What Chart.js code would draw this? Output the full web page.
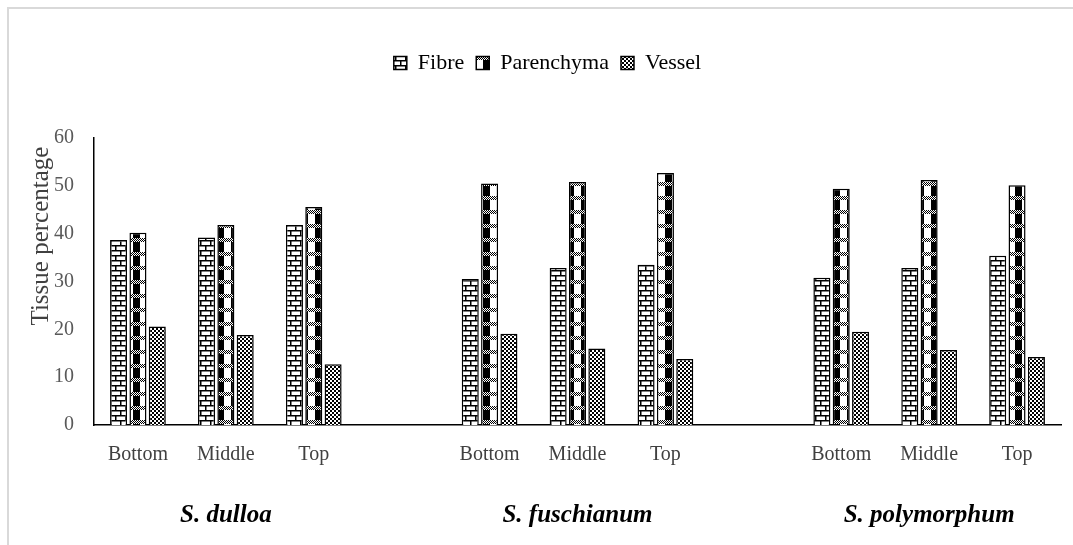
<!DOCTYPE html>
<html>
<head>
<meta charset="utf-8">
<script src="https://cdn.jsdelivr.net/npm/chart.js@4"></script>
<style>
  html, body { margin: 0; padding: 0; background: #fff; }
  #wrap { width: 1073px; height: 545px; }
</style>
</head>
<body>
<div id="wrap"><canvas id="chartBar" width="1073" height="545"></canvas></div>
<script>
// data
const categories = ["Bottom", "Middle", "Top", "", "Bottom", "Middle", "Top", "", "Bottom", "Middle", "Top"];
const groupNames = ["S. dulloa", "S. fuschianum", "S. polymorphum"];
const groupCenters = [1, 5, 9]; // category index under each species name
const fibre = [38.7, 39.2, 41.8, null, 30.5, 32.8, 33.5, null, 30.8, 32.8, 35.4];
const parenchyma = [40.2, 41.8, 45.6, null, 50.5, 50.8, 52.7, null, 49.4, 51.2, 50.1];
const vessel = [20.6, 18.8, 12.7, null, 19.1, 16.0, 13.8, null, 19.5, 15.7, 14.2];
const yTicks = [0, 10, 20, 30, 40, 50, 60];
const yTitle = "Tissue percentage";

const serif = "'Liberation Serif', 'Times New Roman', serif";

// little black & white fill patterns, like the Excel ones
function makePattern(w, h, draw) {
  const c = document.createElement("canvas");
  c.width = w;
  c.height = h;
  const ctx = c.getContext("2d");
  ctx.fillStyle = "#fff";
  ctx.fillRect(0, 0, w, h);
  ctx.fillStyle = "#000";
  draw(ctx);
  return document.createElement("canvas").getContext("2d").createPattern(c, "repeat");
}

const brick = makePattern(10, 10, (ctx) => {
  ctx.fillRect(0, 0, 10, 1.5);
  ctx.fillRect(0, 5, 10, 1.5);
  ctx.fillRect(0, 0, 1.5, 5);
  ctx.fillRect(5, 5, 1.5, 5);
});

const shingle = makePattern(14, 14, (ctx) => {
  ctx.fillRect(7, 0, 7, 14);
  // dotted band
  ctx.fillStyle = "#fff";
  ctx.fillRect(0, 0, 14, 4);
  ctx.fillStyle = "#000";
  for (let y = 0; y < 4; y++) {
    for (let x = (y % 2); x < 14; x += 2) ctx.fillRect(x, y, 1, 1);
  }
});

const checker = makePattern(4, 4, (ctx) => {
  ctx.fillRect(0, 0, 2, 2);
  ctx.fillRect(2, 2, 2, 2);
});

const background = {
  id: "background",
  beforeDraw(chart) {
    const ctx = chart.ctx;
    ctx.save();
    ctx.fillStyle = "#fff";
    ctx.fillRect(0, 0, chart.width, chart.height);
    ctx.strokeStyle = "#d9d9d9";
    ctx.lineWidth = 2;
    ctx.beginPath();
    ctx.moveTo(8, chart.height);
    ctx.lineTo(8, 8);
    ctx.lineTo(chart.width, 8);
    ctx.stroke();
    ctx.restore();
  },
};

// species names under the groups, and the y title (sits a bit above centre in the original)
const extraText = {
  id: "extraText",
  afterDraw(chart) {
    const ctx = chart.ctx;
    const x = chart.scales.x;
    const y = chart.scales.y;
    ctx.save();
    ctx.font = "italic bold 25px " + serif;
    ctx.fillStyle = "#000";
    ctx.textAlign = "center";
    ctx.textBaseline = "middle";
    groupNames.forEach((name, i) => {
      ctx.fillText(name, x.getPixelForValue(groupCenters[i]), 516);
    });
    ctx.translate(41, y.getPixelForValue(39.5));
    ctx.rotate(-Math.PI / 2);
    ctx.font = "25px " + serif;
    ctx.fillStyle = "#404040";
    ctx.fillText(yTitle, 0, 0);
    ctx.restore();
  },
};

const legendMargin = {
  id: "legendMargin",
  beforeInit(chart) {
    const fit = chart.legend.fit;
    chart.legend.fit = function () {
      fit.bind(chart.legend)();
      this.height += 54;
    };
  },
};

const ds = (label, data, fill) => ({
  label: label,
  data: data,
  backgroundColor: fill,
  borderColor: "#000",
  borderWidth: 1.5,
  categoryPercentage: 0.66,
  barPercentage: 0.88,
});

new Chart(document.getElementById("chartBar"), {
  type: "bar",
  data: {
    labels: categories,
    datasets: [
      ds("Fibre", fibre, brick),
      ds("Parenchyma", parenchyma, shingle),
      ds("Vessel", vessel, checker),
    ],
  },
  options: {
    responsive: false,
    animation: false,
    layout: { padding: { top: 40, left: 34, right: 12, bottom: 60 } },
    plugins: {
      legend: {
        position: "top",
        labels: {
          boxWidth: 13,
          boxHeight: 13,
          padding: 12,
          color: "#000",
          font: { family: serif, size: 22 },
        },
      },
      tooltip: { enabled: false },
    },
    scales: {
      x: {
        grid: { display: false, drawTicks: false },
        border: { color: "#000", width: 1.5 },
        ticks: {
          color: "#404040",
          padding: 18,
          autoSkip: false,
          maxRotation: 0,
          font: { family: serif, size: 20 },
        },
      },
      y: {
        min: 0,
        max: 60,
        afterBuildTicks: (axis) => {
          axis.ticks = yTicks.map((v) => ({ value: v }));
        },
        grid: { display: false, drawTicks: false },
        border: { color: "#000", width: 1.5 },
        ticks: {
          color: "#595959",
          padding: 20,
          font: { family: serif, size: 20 },
        },
      },
    },
  },
  plugins: [background, extraText, legendMargin],
});
</script>
</body>
</html>
